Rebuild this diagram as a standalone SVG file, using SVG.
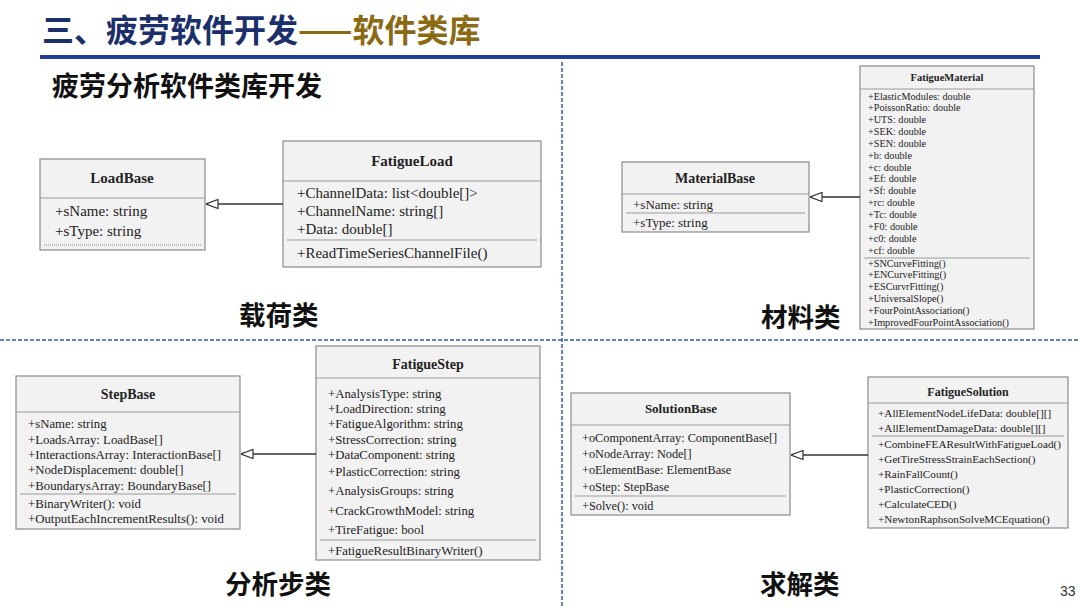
<svg xmlns="http://www.w3.org/2000/svg" width="1080" height="608" viewBox="0 0 1080 608">
<defs>
<style>
.box{fill:#f2f2f2;stroke:#8a8a8a;stroke-width:1.2}
.sep{stroke:#9a9a9a;stroke-width:1}
.t{font-family:"Liberation Serif","Times New Roman",serif;fill:#222}
.b{font-weight:bold;text-anchor:middle}
.cn{font-family:"Noto Sans CJK SC","Noto Sans",sans-serif;font-weight:bold;fill:#111}
.dash{stroke:#3559a8;stroke-width:1.5;stroke-dasharray:4 2;fill:none}
.conn{stroke:#333;stroke-width:1.3;fill:none;marker-end:url(#tri)}
</style>
<marker id="tri" viewBox="0 0 12 10" refX="12" refY="5" markerWidth="13" markerHeight="10" markerUnits="userSpaceOnUse" orient="auto">
<path d="M0,0.5 L12,5 L0,9.5 z" fill="#fff" stroke="#333" stroke-width="1.2"/>
</marker>
</defs>
<rect width="1080" height="608" fill="#fff"/>

<g id="header">
<text x="42" y="42" class="cn" font-size="32" fill="#1b2f6b"><tspan fill="#1b2f6b">三、疲劳软件开发</tspan><tspan fill="#8b6a14">——软件类库</tspan></text>
<rect x="40" y="55" width="1000" height="4" fill="#1f3d99"/>
<text x="52" y="96" class="cn" font-size="27">疲劳分析软件类库开发</text>
</g>

<g id="dividers">
<line x1="562" y1="62" x2="562" y2="608" class="dash"/>
<line x1="0" y1="340" x2="1080" y2="340" class="dash"/>
</g>

<g id="LoadBase">
<rect x="40" y="159" width="165" height="91" class="box"/>
<line x1="40" y1="198" x2="205" y2="198" class="sep"/>
<text x="122" y="183" class="t b" font-size="15">LoadBase</text>
<text x="55" y="216" class="t" font-size="15">+sName: string</text>
<text x="55" y="236" class="t" font-size="15">+sType: string</text>
<line x1="44" y1="245" x2="201" y2="245" stroke="#888" stroke-width="1" stroke-dasharray="1 1"/>
</g>

<g id="FatigueLoad">
<rect x="283" y="141" width="258" height="126" class="box"/>
<line x1="283" y1="181" x2="541" y2="181" class="sep"/>
<text x="412" y="166" class="t b" font-size="15">FatigueLoad</text>
<text x="297" y="198" class="t" font-size="15">+ChannelData: list&lt;double[]&gt;</text>
<text x="297" y="216" class="t" font-size="15">+ChannelName: string[]</text>
<text x="297" y="234" class="t" font-size="15">+Data: double[]</text>
<line x1="287" y1="240" x2="537" y2="240" class="sep"/>
<text x="297" y="258" class="t" font-size="15">+ReadTimeSeriesChannelFile()</text>
</g>

<g id="MaterialBase">
<rect x="622" y="162" width="187" height="70" class="box"/>
<line x1="622" y1="194" x2="809" y2="194" class="sep"/>
<text x="715" y="183" class="t b" font-size="14">MaterialBase</text>
<text x="633" y="209" class="t" font-size="13">+sName: string</text>
<line x1="626" y1="213" x2="805" y2="213" class="sep"/>
<text x="633" y="227" class="t" font-size="13">+sType: string</text>
</g>

<g id="FatigueMaterial" class="t" font-size="10.2">
<rect x="860" y="66" width="174" height="263" class="box"/>
<line x1="860" y1="89" x2="1034" y2="89" class="sep"/>
<text x="947" y="81" class="b" font-size="10.5">FatigueMaterial</text>
<text x="868" y="99.5">+ElasticModules: double</text>
<text x="868" y="111.3">+PoissonRatio: double</text>
<text x="868" y="123.2">+UTS: double</text>
<text x="868" y="135">+SEK: double</text>
<text x="868" y="146.9">+SEN: double</text>
<text x="868" y="158.7">+b: double</text>
<text x="868" y="170.6">+c: double</text>
<text x="868" y="182.4">+Ef: double</text>
<text x="868" y="194.3">+Sf: double</text>
<text x="868" y="206.1">+rc: double</text>
<text x="868" y="218">+Tc: double</text>
<text x="868" y="229.8">+F0: double</text>
<text x="868" y="241.7">+c0: double</text>
<text x="868" y="253.5">+cf: double</text>
<line x1="864" y1="258" x2="1030" y2="258" class="sep"/>
<text x="868" y="266.5">+SNCurveFitting()</text>
<text x="868" y="278.3">+ENCurveFitting()</text>
<text x="868" y="290.1">+ESCurvrFitting()</text>
<text x="868" y="301.9">+UniversalSlope()</text>
<text x="868" y="313.7">+FourPointAssociation()</text>
<text x="868" y="325.5">+ImprovedFourPointAssociation()</text>
</g>

<g id="StepBase" class="t" font-size="12.8">
<rect x="16" y="376" width="224" height="153" class="box"/>
<line x1="16" y1="412" x2="240" y2="412" class="sep"/>
<text x="128" y="399" class="b" font-size="14">StepBase</text>
<text x="28" y="427.5">+sName: string</text>
<text x="28" y="443.5">+LoadsArray: LoadBase[]</text>
<text x="28" y="458.5">+InteractionsArray: InteractionBase[]</text>
<text x="28" y="473.5">+NodeDisplacement: double[]</text>
<text x="28" y="489.5">+BoundarysArray: BoundaryBase[]</text>
<line x1="20" y1="494" x2="236" y2="494" class="sep"/>
<text x="28" y="507.5">+BinaryWriter(): void</text>
<text x="28" y="522.5">+OutputEachIncrementResults(): void</text>
</g>

<g id="FatigueStep" class="t" font-size="12.8">
<rect x="316" y="346" width="224" height="214" class="box"/>
<line x1="316" y1="378" x2="540" y2="378" class="sep"/>
<text x="428" y="369" class="b" font-size="14">FatigueStep</text>
<text x="328" y="397.5">+AnalysisType: string</text>
<text x="328" y="412.5">+LoadDirection: string</text>
<text x="328" y="427.5">+FatigueAlgorithm: string</text>
<text x="328" y="443.5">+StressCorrection: string</text>
<text x="328" y="458.5">+DataComponent: string</text>
<text x="328" y="475.5">+PlasticCorrection: string</text>
<text x="328" y="494.5">+AnalysisGroups: string</text>
<text x="328" y="514.5">+CrackGrowthModel: string</text>
<text x="328" y="533.5">+TireFatigue: bool</text>
<line x1="320" y1="540" x2="536" y2="540" class="sep"/>
<text x="328" y="554.5">+FatigueResultBinaryWriter()</text>
</g>

<g id="SolutionBase" class="t" font-size="12.3">
<rect x="571" y="393" width="219" height="122" class="box"/>
<line x1="571" y1="425" x2="790" y2="425" class="sep"/>
<text x="681" y="413" class="b" font-size="13">SolutionBase</text>
<text x="582" y="441.5">+oComponentArray: ComponentBase[]</text>
<text x="582" y="457.5">+oNodeArray: Node[]</text>
<text x="582" y="473.5">+oElementBase: ElementBase</text>
<text x="582" y="490.5">+oStep: StepBase</text>
<line x1="575" y1="496" x2="786" y2="496" class="sep"/>
<text x="582" y="509.5">+Solve(): void</text>
</g>

<g id="FatigueSolution" class="t" font-size="11.2">
<rect x="868" y="377" width="200" height="151" class="box"/>
<line x1="868" y1="403" x2="1068" y2="403" class="sep"/>
<text x="968" y="396" class="b" font-size="12">FatigueSolution</text>
<text x="878" y="417">+AllElementNodeLifeData: double[][]</text>
<text x="878" y="432">+AllElementDamageData: double[][]</text>
<line x1="872" y1="436" x2="1064" y2="436" class="sep"/>
<text x="878" y="448">+CombineFEAResultWithFatigueLoad()</text>
<text x="878" y="463">+GetTireStressStrainEachSection()</text>
<text x="878" y="478">+RainFallCount()</text>
<text x="878" y="493">+PlasticCorrection()</text>
<text x="878" y="508">+CalculateCED()</text>
<text x="878" y="523">+NewtonRaphsonSolveMCEquation()</text>
</g>

<g id="connectors">
<line x1="283" y1="204" x2="206" y2="204" class="conn"/>
<line x1="860" y1="197" x2="810" y2="197" class="conn"/>
<line x1="316" y1="454" x2="241" y2="454" class="conn"/>
<line x1="868" y1="455" x2="791" y2="455" class="conn"/>
</g>

<g id="labels">
<text x="239" y="325" class="cn" font-size="26.5">载荷类</text>
<text x="761" y="327" class="cn" font-size="26.5">材料类</text>
<text x="225" y="594" class="cn" font-size="26.5">分析步类</text>
<text x="760" y="594" class="cn" font-size="26.5">求解类</text>
<text x="1060" y="596" font-family="Liberation Sans, Arial, sans-serif" font-size="14" fill="#333">33</text>
</g>
</svg>
